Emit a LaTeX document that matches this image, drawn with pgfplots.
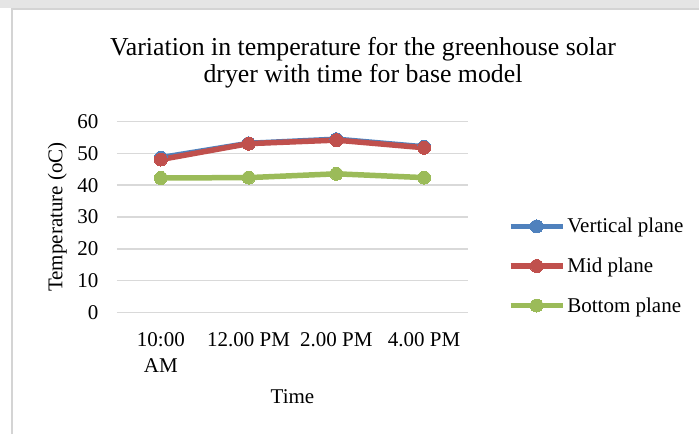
\documentclass[border=0pt]{standalone}
\usepackage{fontspec}
\setmainfont{Liberation Serif}
\usepackage{pgfplots}
\pgfplotsset{compat=1.18}
\definecolor{vblue}{HTML}{4F81BD}
\definecolor{mred}{HTML}{C0504D}
\definecolor{bgreen}{HTML}{9BBB59}
\definecolor{gridgray}{HTML}{D9D9D9}
\definecolor{framegray}{HTML}{D4D4D4}
\begin{document}
\begin{tikzpicture}[x=1pt,y=1pt]
\path[use as bounding box] (0,0) rectangle (699,-434);
\fill[framegray!60] (0,0) rectangle (699,-8);
\draw[framegray, line width=1.5pt] (12,-434) -- (12,-9) -- (699,-9);
\node[anchor=base, font=\fontsize{25.8}{27}\selectfont] at (363,-55) {Variation in temperature for the greenhouse solar};
\node[anchor=base, font=\fontsize{25.8}{27}\selectfont] at (363,-82) {dryer with time for base model};
\begin{axis}[
  at={(117pt,-312.3pt)}, anchor=south west,
  scale only axis, width=351pt, height=190.6pt,
  xmin=-0.5, xmax=3.5, ymin=0, ymax=60,
  ytick={0,10,...,60},
  xtick={0,1,2,3},
  xticklabels={{10:00\\AM},{12.00 PM},{2.00 PM},{4.00 PM}},
  xticklabel style={align=center, font=\fontsize{21}{26}\selectfont, yshift=-17pt},
  yticklabel style={font=\fontsize{21}{24}\selectfont, xshift=-15pt},
  /pgf/number format/assume math mode=true,
  axis line style={draw=none},
  major tick length=0pt,
  ymajorgrids,
  grid style={color=gridgray, line width=1.5pt},
  ylabel={Temperature (oC)},
  ylabel style={at={(axis description cs:-0.17,0.5)}, anchor=center, font=\fontsize{21}{24}\selectfont},
  xlabel={Time},
  xlabel style={at={(axis description cs:0.5,-0.44)}, anchor=center, font=\fontsize{21}{24}\selectfont},
  legend style={draw=none, fill=none, at={(axis description cs:1.113,0.243)}, anchor=west, font=\fontsize{21}{24}\selectfont, row sep=19.5pt, inner sep=0pt},
  legend cell align=left,
  legend image code/.code={\draw[mark repeat=2,mark phase=2] plot coordinates {(0pt,0pt) (26pt,0pt) (52pt,0pt)};},
  every axis plot/.append style={line width=5.5pt, mark=*, mark size=6.5pt},
]
\addplot[color=vblue, mark options={fill=vblue, draw=vblue, line width=0pt}] coordinates {(0,48.7) (1,53.2) (2,54.5) (3,52.1)};
\addlegendentry{Vertical plane}
\addplot[color=mred, mark options={fill=mred, draw=mred, line width=0pt}] coordinates {(0,48.1) (1,53.1) (2,54.2) (3,51.8)};
\addlegendentry{Mid plane}
\addplot[color=bgreen, mark options={fill=bgreen, draw=bgreen, line width=0pt}] coordinates {(0,42.3) (1,42.4) (2,43.6) (3,42.4)};
\addlegendentry{Bottom plane}
\end{axis}
\end{tikzpicture}
\end{document}
